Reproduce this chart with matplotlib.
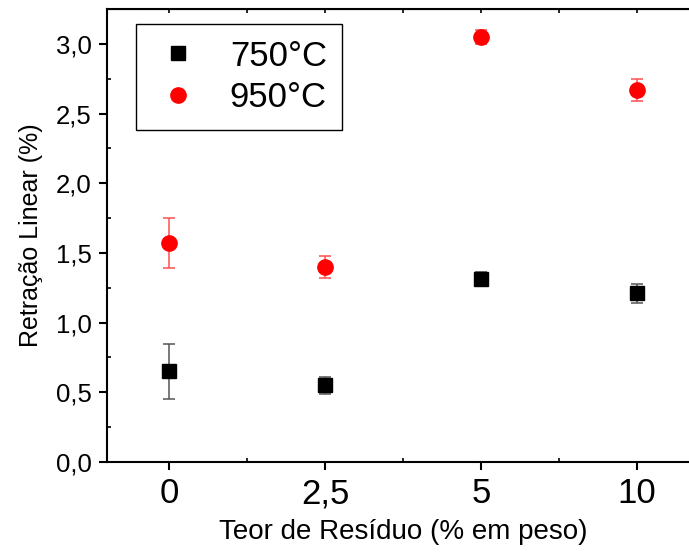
import numpy as np
import matplotlib.pyplot as plt
from matplotlib.ticker import MultipleLocator, FixedLocator

plt.rcParams['font.family'] = ['Liberation Sans', 'DejaVu Sans']

# Data
teor_labels = ['0', '2,5', '5', '10']
ret_750 = [0.65, 0.55, 1.31, 1.21]
err_750 = [0.20, 0.06, 0.05, 0.07]
ret_950 = [1.57, 1.40, 3.05, 2.67]
err_950 = [0.18, 0.08, 0.05, 0.08]
y_ticks = [0.0, 0.5, 1.0, 1.5, 2.0, 2.5, 3.0]

x = np.arange(len(teor_labels))

fig = plt.figure(figsize=(6.89, 5.52), dpi=100)
ax = fig.add_axes([107 / 689, 90 / 552, 592 / 689, 453 / 552])

eb1 = ax.errorbar(x, ret_750, yerr=err_750, fmt='s', color='black', ms=9.5,
                  mec='black', ecolor='#555555', elinewidth=1.1, capsize=4.5,
                  capthick=1.1, label='750°C', zorder=3)
eb2 = ax.errorbar(x, ret_950, yerr=err_950, fmt='o', color='#ff0000', ms=11,
                  mec='#ff0000', ecolor='#ff5050', elinewidth=1.1, capsize=4.5,
                  capthick=1.1, label='950°C', zorder=3)

ax.set_xlim(-0.4, 3.4)
ax.set_ylim(0, 3.25)
ax.set_xticks(x)
ax.set_xticklabels(teor_labels)
ax.xaxis.set_minor_locator(FixedLocator(x[:-1] + 0.5))
ax.set_yticks(y_ticks)
ax.set_yticklabels([f'{v:.1f}'.replace('.', ',') for v in y_ticks])
ax.yaxis.set_minor_locator(MultipleLocator(0.25))

for s in ax.spines.values():
    s.set_linewidth(1.5)

ax.tick_params(which='major', direction='out', length=6, width=1.5, pad=5)
ax.tick_params(which='minor', direction='in', length=3, width=1.2)
ax.tick_params(axis='x', which='major', labelsize=25)
ax.tick_params(axis='y', which='major', labelsize=18.5)

top = ax.secondary_xaxis('top')
top.set_xticks(x)
top.set_xticklabels([])
top.xaxis.set_minor_locator(FixedLocator(x[:-1] + 0.5))
top.tick_params(which='both', direction='in', length=3, width=1.2)

ax.set_xlabel('Teor de Resíduo (% em peso)', fontsize=20, labelpad=6)
ax.set_ylabel('Retração Linear (%)', fontsize=18, labelpad=9)

leg = ax.legend(handles=[eb1[0], eb2[0]], labels=['750°C', '950°C'],
                loc='upper left', bbox_to_anchor=(0.049, 0.967), borderaxespad=0,
                fontsize=25, handlelength=1.5, handletextpad=0.75,
                borderpad=0.45, labelspacing=0.25, fancybox=False,
                edgecolor='black', framealpha=1)
leg.get_frame().set_linewidth(1.0)

fig.savefig('out.png', dpi=100)
